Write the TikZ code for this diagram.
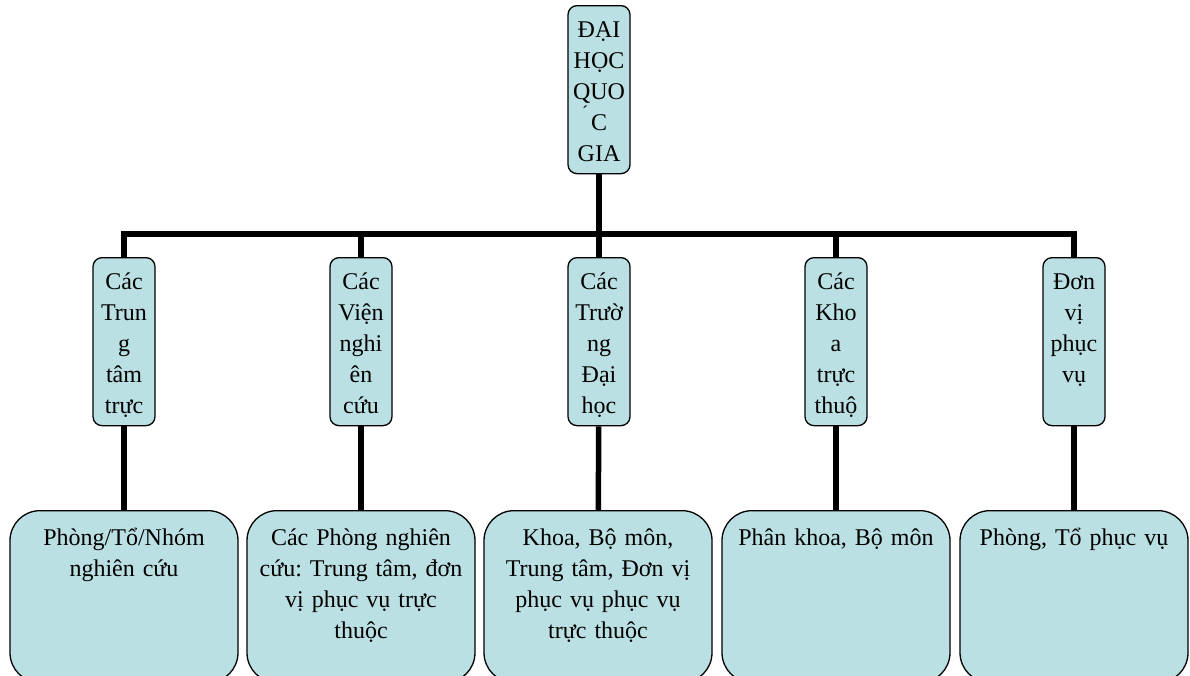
\documentclass[tikz,border=0pt]{standalone}
\usepackage{fontspec}
\setmainfont{Liberation Serif}
\definecolor{boxfill}{RGB}{187,224,227}

\begin{document}
\begin{tikzpicture}[x=1pt,y=-1pt,
		unit/.style={rectangle,rounded corners=9pt,draw=black,line width=1.3pt,fill=boxfill,
			anchor=north,text width=56pt,align=center,inner xsep=3pt,inner ysep=4pt,
			text height=28pt,text depth=132pt,font=\fontsize{24}{31}\selectfont\frenchspacing},
		part/.style={unit,rounded corners=30pt,text width=220pt,inner xsep=4pt,
			text height=31pt,text depth=133pt},
		link/.style={line width=5.5pt}]
		\useasboundingbox (0,0) rectangle (1190,675);
		\clip (0,0) rectangle (1190,675);
		% top of the tree
		\node[unit] (top) at (599,5) {ĐẠI\\HỌC\\QUO\\\leavevmode\llap{\raisebox{12pt}{\fontsize{18}{18}\selectfont ´}\hspace{3pt}}C\\GIA};
		% second row
		\node[unit] (c1) at (124,257) {Các\\Trun\\g\\tâm\\trực};
		\node[unit] (c2) at (361,257) {Các\\Viện\\nghi\\ên\\cứu};
		\node[unit] (c3) at (599,257) {Các\\Trườ\\ng\\Đại\\học};
		\node[unit] (c4) at (836,257) {Các\\Kho\\a\\trực\\thuộ};
		\node[unit] (c5) at (1074,257) {Đơn\\vị\\phục\\vụ};
		% bottom row
		\node[part] (d1) at (124,510) {Phòng/Tổ/Nhóm\\nghiên cứu};
		\node[part] (d2) at (361,510) {Các Phòng nghiên\\cứu: Trung tâm, đơn\\vị phục vụ trực\\thuộc};
		\node[part] (d3) at (598,510) {Khoa, Bộ môn,\\Trung tâm, Đơn vị\\phục vụ phục vụ\\trực thuộc};
		\node[part] (d4) at (836,510) {Phân khoa, Bộ môn};
		\node[part] (d5) at (1074,510) {Phòng, Tổ phục vụ};
		% connectors
		\coordinate (bar) at (599,234);
		\draw[link] (top) -- (bar);
		\foreach \i in {1,...,5} {
			\draw[link] (c\i) |- (bar);
			\draw[link] (c\i) -- (d\i);
		}
	\end{tikzpicture}
\end{document}
